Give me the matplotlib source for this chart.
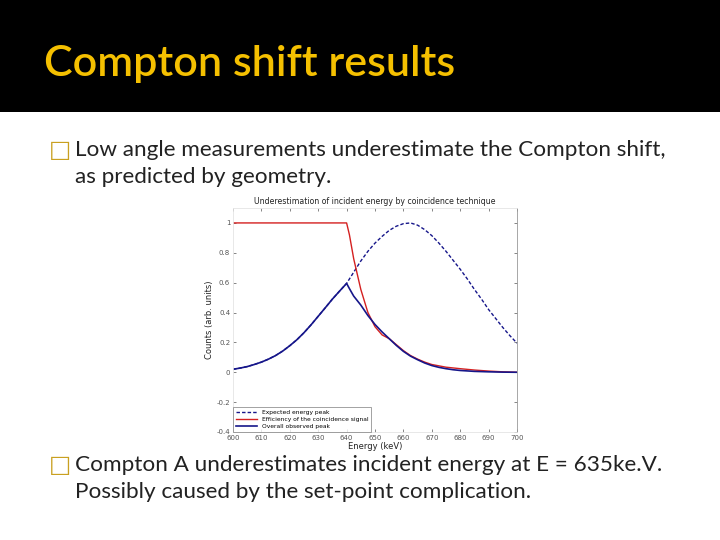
import matplotlib
matplotlib.use("Agg")
import matplotlib.pyplot as plt

# slide text
slide_title = "Compton shift results"
bullet_top = ["Low angle measurements underestimate the Compton shift,",
              "as predicted by geometry."]
bullet_bottom = ["Compton A underestimates incident energy at E = 635ke.V.",
                 "Possibly caused by the set-point complication."]

# chart text
chart_title = "Underestimation of incident energy by coincidence technique"
x_label = "Energy (keV)"
y_label = "Counts (arb. units)"
series_names = ["Expected energy peak",
                "Efficiency of the coincidence signal",
                "Overall observed peak"]

# expected energy peak (dashed)
exp_e = [600, 602.5, 605, 607.5, 610, 612.5, 615, 617.5, 620, 622.5, 625, 627.5,
         630, 632.5, 635, 637.5, 640, 642.5, 645, 647.5, 650, 652.5, 655, 657.5,
         660, 662.5, 665, 667.5, 670, 672.5, 675, 677.5, 680, 682.5, 685, 687.5,
         690, 692.5, 695, 697.5, 700]
exp_c = [0.020, 0.028, 0.038, 0.052, 0.068, 0.088, 0.112, 0.142, 0.178, 0.218,
         0.265, 0.318, 0.375, 0.432, 0.490, 0.543, 0.595, 0.670, 0.745, 0.810,
         0.865, 0.910, 0.950, 0.978, 0.995, 1.000, 0.985, 0.955, 0.915, 0.865,
         0.810, 0.750, 0.690, 0.625, 0.555, 0.490, 0.420, 0.360, 0.300, 0.245,
         0.195]

# efficiency of the coincidence signal
eff_e = [600, 640, 641, 642.5, 645, 647.5, 650, 652.5, 655, 657.5, 660, 662.5,
         665, 667.5, 670, 675, 680, 685, 690, 695, 700]
eff_c = [1.0, 1.0, 0.92, 0.76, 0.555, 0.40, 0.305, 0.25, 0.225, 0.185, 0.145,
         0.112, 0.088, 0.068, 0.052, 0.034, 0.024, 0.015, 0.008, 0.003, 0.0]

# overall observed peak
obs_e = [600, 602.5, 605, 607.5, 610, 612.5, 615, 617.5, 620, 622.5, 625, 627.5,
         630, 632.5, 635, 637.5, 640, 641, 642.5, 645, 647.5, 650, 652.5, 655,
         657.5, 660, 662.5, 665, 667.5, 670, 672.5, 675, 677.5, 680, 685, 690,
         695, 700]
obs_c = [0.020, 0.028, 0.038, 0.052, 0.068, 0.088, 0.112, 0.142, 0.178, 0.218,
         0.265, 0.318, 0.375, 0.432, 0.490, 0.543, 0.595, 0.56, 0.51, 0.45,
         0.38, 0.32, 0.27, 0.225, 0.18, 0.14, 0.108, 0.084, 0.062, 0.045,
         0.033, 0.024, 0.017, 0.012, 0.006, 0.003, 0.001, 0.0]

x_ticks = list(range(600, 701, 10))
y_ticks = [-0.4, -0.2, 0, 0.2, 0.4, 0.6, 0.8, 1]
y_tick_labels = ["-0.4", "-0.2", "0", "0.2", "0.4", "0.6", "0.8", "1"]

navy = "#16168a"
red = "#d42020"
gold = "#f5c000"
text_col = "#222222"

fig = plt.figure(figsize=(7.2, 5.4), dpi=100)
fig.patch.set_facecolor("white")

# black title band
band = fig.add_axes([0, 1 - 112 / 540, 1, 112 / 540])
band.set_facecolor("black")
band.set_xticks([])
band.set_yticks([])
for s in band.spines.values():
    s.set_visible(False)
fig.text(44 / 720, 1 - 64 / 540, slide_title, color=gold, fontsize=31,
         family="Lato", fontweight="semibold", va="center", ha="left")

# bullets
def bullet(y_px, lines):
    fig.text(49 / 720, 1 - y_px / 540, "\u25a1", color="#c9a020", fontsize=17,
             family="DejaVu Sans", va="center", ha="left")
    for i, t in enumerate(lines):
        fig.text(75 / 720, 1 - (y_px + 27 * i) / 540, t, color=text_col,
                 fontsize=16.2, family="Lato", va="center", ha="left")

bullet(150, bullet_top)
bullet(465, bullet_bottom)

# chart
ax = fig.add_axes([233 / 720, 1 - 432 / 540, 284 / 720, 224 / 540])
ax.plot(exp_e, exp_c, color=navy, lw=1.0, ls=(0, (2.5, 1.5)),
        label=series_names[0])
ax.plot(eff_e, eff_c, "-", color=red, lw=1.0, label=series_names[1])
ax.plot(obs_e, obs_c, "-", color=navy, lw=1.2, label=series_names[2])
ax.set_xlim(600, 700)
ax.set_ylim(-0.4, 1.1)
ax.set_xticks(x_ticks)
ax.set_yticks(y_ticks)
ax.set_yticklabels(y_tick_labels)
ax.tick_params(direction="in", length=2.5, width=0.5, labelsize=5,
               colors="#555555", top=True, right=True, pad=2)
for name, s in ax.spines.items():
    s.set_linewidth(0.6)
    s.set_color("#999999" if name == "right" else "#e4e4e4")
ax.set_title(chart_title, fontsize=5.6, color=text_col, pad=3)
ax.set_xlabel(x_label, fontsize=6, color=text_col, labelpad=1)
ax.set_ylabel(y_label, fontsize=6, color=text_col, labelpad=2)
leg = ax.legend(loc="lower left", fontsize=4.3, frameon=True, fancybox=False,
                borderaxespad=0, handlelength=3.5, borderpad=0.5,
                labelspacing=0.3)
leg.get_frame().set_edgecolor("#777777")
leg.get_frame().set_linewidth(0.6)

fig.savefig("out.png", dpi=100)
